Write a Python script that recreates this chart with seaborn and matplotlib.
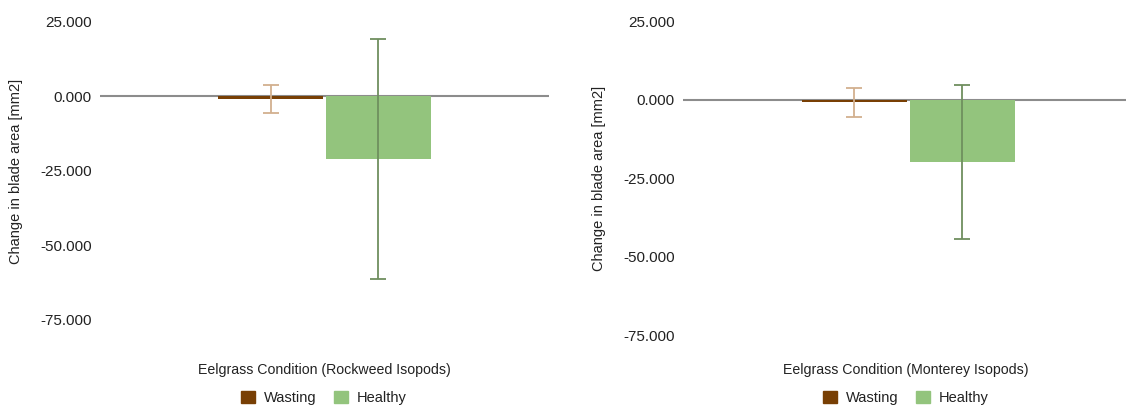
import matplotlib
matplotlib.use("Agg")
import matplotlib.pyplot as plt
import pandas as pd
import seaborn as sns
from matplotlib.patches import Patch

sns.set_theme(style="white")
plt.rcParams['font.family'] = ['Liberation Sans', 'DejaVu Sans']

# Data
conditions = ["Wasting", "Healthy"]
rockweed_mean = [-0.9, -21.0]
rockweed_err = [4.6, 40.4]
monterey_mean = [-0.95, -20.0]
monterey_err = [4.55, 24.5]
y_ticks = [25, 0, -25, -50, -75]

bar_colors = {"Wasting": "#783f04", "Healthy": "#93c47d"}
err_colors = {"Wasting": "#d2b08f", "Healthy": "#6f8f5f"}

fig = plt.figure(figsize=(11.26, 4.07), dpi=100)
ax1 = fig.add_axes([0.0888, 0.2138, 0.3988, 0.7322])
ax2 = fig.add_axes([0.6066, 0.1769, 0.4000, 0.7715])


def draw_panel(ax, means, errs, xlabel, xc_fig):
    df = pd.DataFrame({"group": ["all", "all"], "cond": conditions, "value": means})
    sns.barplot(data=df, x="group", y="value", hue="cond", hue_order=conditions,
                palette=bar_colors, width=0.48, gap=0.03, errorbar=None,
                legend=False, ax=ax, saturation=1, zorder=2, linewidth=0)
    # error bars at bar centres
    for patch, cond, m, e in zip(ax.patches, conditions, means, errs):
        xc = patch.get_x() + patch.get_width() / 2
        ax.errorbar(xc, m, yerr=e, color=err_colors[cond], lw=1.3,
                    capsize=5.5, capthick=1.3, zorder=4)
    ax.axhline(0, color="#8c8c8c", lw=1.5, zorder=0)
    ax.set_xlim(-0.5, 0.5)
    ax.set_ylim(-75, 25)
    ax.set_yticks(y_ticks)
    ax.set_yticklabels([f"{t:.3f}" for t in y_ticks], fontsize=11, color="#222222")
    ax.tick_params(axis="y", length=0, pad=6)
    ax.set_xticks([])
    for s in ax.spines.values():
        s.set_visible(False)
    ax.set_ylabel("Change in blade area [mm2]", fontsize=10.5, color="#222222", labelpad=12)
    ax.set_xlabel(xlabel, fontsize=10.2, color="#222222")
    ax.xaxis.set_label_coords(xc_fig, 0.091, transform=fig.transFigure)
    ax.xaxis.label.set_verticalalignment("center")
    handles = [Patch(facecolor=bar_colors[c], edgecolor=bar_colors[c], label=c) for c in conditions]
    ax.legend(handles=handles, loc="center", bbox_to_anchor=(xc_fig, 0.022),
              bbox_transform=fig.transFigure,
              ncol=2, frameon=False, fontsize=10.5, handlelength=0.95, handleheight=0.95,
              columnspacing=1.25, handletextpad=0.6, labelcolor="#222222",
              borderpad=0.1)


draw_panel(ax1, rockweed_mean, rockweed_err, "Eelgrass Condition (Rockweed Isopods)", 324 / 1126)
draw_panel(ax2, monterey_mean, monterey_err, "Eelgrass Condition (Monterey Isopods)", 906 / 1126)

fig.savefig("out.png", dpi=100)
